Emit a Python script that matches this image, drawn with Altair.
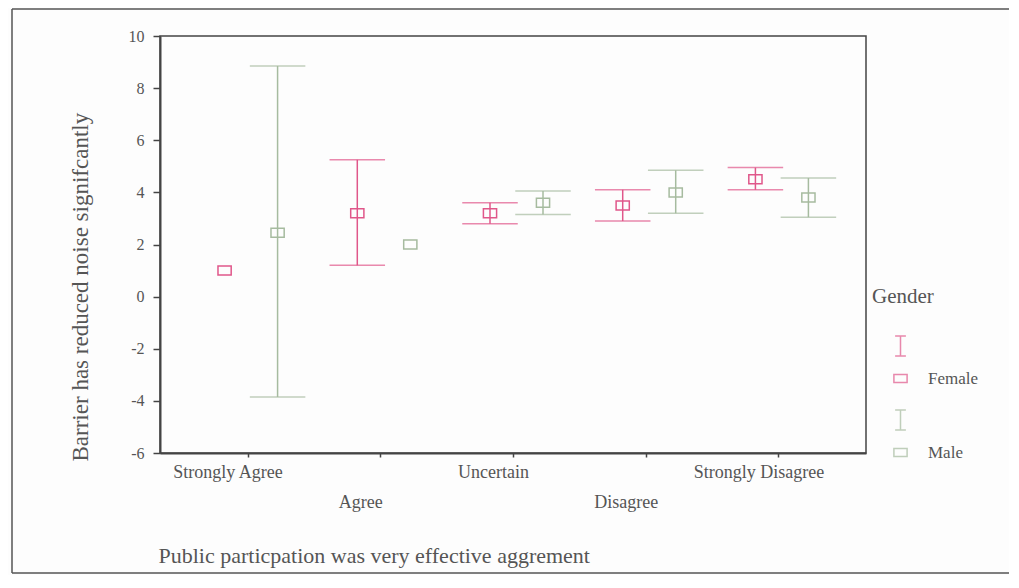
import altair as alt
import pandas as pd

categories = ["Strongly Agree", "Agree", "Uncertain", "Disagree", "Strongly Disagree"]
genders = ["Female", "Male"]
female_mean = [1.0, 3.2, 3.2, 3.5, 4.5]
female_lo = [None, 1.2, 2.8, 2.9, 4.1]
female_hi = [None, 5.25, 3.6, 4.1, 4.95]
male_mean = [2.45, 2.0, 3.6, 4.0, 3.8]
male_lo = [-3.85, None, 3.15, 3.2, 3.05]
male_hi = [8.85, None, 4.05, 4.85, 4.55]

rows = []
for i, c in enumerate(categories):
    rows.append({"cat": c, "Gender": "Female", "mean": female_mean[i], "lo": female_lo[i], "hi": female_hi[i]})
    rows.append({"cat": c, "Gender": "Male", "mean": male_mean[i], "lo": male_lo[i], "hi": male_hi[i]})
df = pd.DataFrame(rows)

FEMALE = "#e0578a"
MALE = "#a6bb9f"
TXT = "#555555"
FONT = "Liberation Serif"

color = alt.Color("Gender:N", scale=alt.Scale(domain=genders, range=[FEMALE, MALE]),
                  legend=alt.Legend(title="Gender", orient="none", legendX=712, legendY=250,
                                    titleFontSize=21, titleFont=FONT, titleColor=TXT,
                                    titleFontWeight="normal", labelFontSize=17, labelFont=FONT,
                                    labelColor=TXT, symbolSize=144, symbolStrokeWidth=1.5,
                                    symbolFillColor="transparent",
                                    symbolType="M-1.1,-0.67H1.1V0.67H-1.1Z M-0.9,-7.1H0.9 M0,-7.1V-3.75 M-0.9,-3.75H0.9",
                                    rowPadding=19, symbolOffset=20, labelOffset=19, titlePadding=63))

x = alt.X("cat:N", sort=categories, scale=alt.Scale(type="point", padding=0.66),
          axis=alt.Axis(title="Public particpation was very effective aggrement",
                        labelAngle=0, labelFontSize=18, labelFont=FONT, labelColor=TXT,
                        labelExpr="datum.value == 'Agree' || datum.value == 'Disagree' ? ['', datum.value] : datum.value",
                        labelLineHeight=30, labelBaseline="top", tickSize=4, labelPadding=6,
                        labelOffset=-20,
                        titleFontSize=22, titleFont=FONT, titleColor=TXT, titleFontWeight="normal",
                        titleAnchor="start", titleAlign="left", titleBaseline="middle", titleY=102, titleX=-2,
                        domainColor="#444", domainWidth=2, tickColor="#444", tickWidth=1.5))
xo = alt.XOffset("Gender:N", sort=genders, scale=alt.Scale(domain=genders, range=[-49.5, 56.5]))
yscale = alt.Scale(domain=[-6, 10], nice=False, zero=False)
yaxis = alt.Axis(title="Barrier has reduced noise signifcantly", values=list(range(-6, 11, 2)),
                 labelExpr="toString(datum.value)",
                 labelFontSize=16, labelFont=FONT, labelColor=TXT, tickSize=7, labelPadding=9,
                 titleFontSize=23, titleFont=FONT, titleColor=TXT, titleFontWeight="normal",
                 titleAngle=-90, titleX=-80, titleY=425, titleAlign="left", titleBaseline="middle",
                 domainColor="#444", domainWidth=2, tickColor="#444", tickWidth=1.5, grid=False)

base = alt.Chart(df)
bars = base.transform_filter("isValid(datum.lo)").mark_rule(strokeWidth=1.5).encode(
    x=x, xOffset=xo, y=alt.Y("lo:Q", scale=yscale, axis=yaxis), y2="hi:Q", color=color)
caps_hi = base.transform_filter("isValid(datum.hi)").mark_tick(
    size=54, thickness=0.01, strokeWidth=1.5, filled=False, orient="horizontal").encode(
    x=x, xOffset=xo, y=alt.Y("hi:Q", scale=yscale), color=color)
caps_lo = base.transform_filter("isValid(datum.lo)").mark_tick(
    size=54, thickness=0.01, strokeWidth=1.5, filled=False, orient="horizontal").encode(
    x=x, xOffset=xo, y=alt.Y("lo:Q", scale=yscale), color=color)
pts = base.mark_point(shape="M-1.1,-0.75H1.1V0.75H-1.1Z", size=144, filled=False, strokeWidth=1.5, opacity=1).encode(
    x=x, xOffset=xo, y=alt.Y("mean:Q", scale=yscale), color=color)

one = pd.DataFrame({"k": [0]})
frame_top = alt.Chart(one).mark_rule(stroke="#555", strokeWidth=1.5).encode(
    x=alt.value(-148), x2=alt.value(900), y=alt.value(-27))
frame_left = alt.Chart(one).mark_rule(stroke="#555", strokeWidth=1.5).encode(
    x=alt.value(-148), y=alt.value(-27), y2=alt.value(537))
frame_bottom = alt.Chart(one).mark_rule(stroke="#555", strokeWidth=1.5).encode(
    x=alt.value(-148), x2=alt.value(900), y=alt.value(537))

chart = alt.layer(frame_top, frame_left, frame_bottom, bars, caps_hi, caps_lo, pts).properties(
    width=706, height=417,
    autosize=alt.AutoSizeParams(type="none"),
    padding={"left": 152, "top": 28, "right": 143, "bottom": 122},
    background="#fdfdfd",
).configure_view(stroke="#444", strokeWidth=1.5).configure_axis(labelFontWeight="normal")

chart.save("out.html", embed_options={"renderer": "svg", "actions": False})
